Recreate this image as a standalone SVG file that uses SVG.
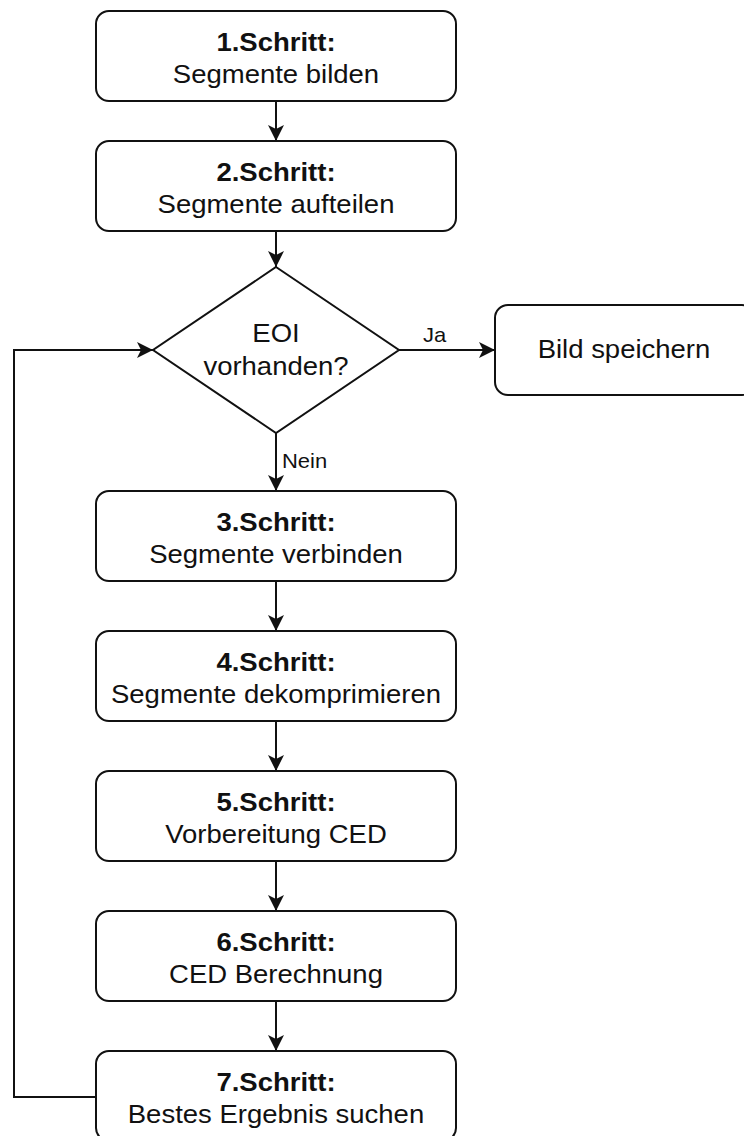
<svg xmlns="http://www.w3.org/2000/svg" width="744" height="1136" viewBox="0 0 744 1136">
<style>
.box{fill:#fff;stroke:#111;stroke-width:2}
.t{font-family:"Liberation Sans",Arial,Helvetica,sans-serif;font-size:25px;fill:#111;text-anchor:middle}
.b{font-weight:bold}
.lbl{font-family:"Liberation Sans",Arial,Helvetica,sans-serif;font-size:20px;fill:#111}
.edge{fill:none;stroke:#111;stroke-width:2}
</style>
<defs>
<marker id="arr" viewBox="0 0 16 16" refX="16" refY="8" markerWidth="16" markerHeight="16" orient="auto" markerUnits="userSpaceOnUse">
<path d="M0,0 L16,8 L0,16 L4,8 Z" fill="#111"/>
</marker>
</defs>
<rect width="744" height="1136" fill="#fff"/>
<g id="connectors">
<path class="edge" d="M276,101 V141" marker-end="url(#arr)"/>
<path class="edge" d="M276,231 V267" marker-end="url(#arr)"/>
<path class="edge" d="M399,350 H495" marker-end="url(#arr)"/>
<path class="edge" d="M276,433 V491" marker-end="url(#arr)"/>
<path class="edge" d="M276,581 V631" marker-end="url(#arr)"/>
<path class="edge" d="M276,721 V771" marker-end="url(#arr)"/>
<path class="edge" d="M276,861 V911" marker-end="url(#arr)"/>
<path class="edge" d="M276,1001 V1051" marker-end="url(#arr)"/>
<path class="edge" d="M96,1097 H14 V350 H153" marker-end="url(#arr)"/>
<text class="lbl" x="423" y="342" transform="translate(423 0) scale(1.1 1) translate(-423 0)">Ja</text>
<text class="lbl" x="282" y="468" transform="translate(282 0) scale(1.1 1) translate(-282 0)">Nein</text>
</g>
<g id="n1">
<rect class="box" x="96" y="11" width="360" height="90" rx="13"/>
<g transform="translate(276 0) scale(1.1 1) translate(-276 0)">
<text class="t b" x="276" y="51">1.Schritt:</text>
<text class="t" x="276" y="83">Segmente bilden</text>
</g>
</g>
<g id="n2">
<rect class="box" x="96" y="141" width="360" height="90" rx="13"/>
<g transform="translate(276 0) scale(1.1 1) translate(-276 0)">
<text class="t b" x="276" y="181">2.Schritt:</text>
<text class="t" x="276" y="213">Segmente aufteilen</text>
</g>
</g>
<g id="decision">
<path class="box" d="M276,267 L399,350 L276,433 L153,350 Z"/>
<g transform="translate(276 0) scale(1.1 1) translate(-276 0)">
<text class="t" x="276" y="342.5">EOI</text>
<text class="t" x="276" y="375">vorhanden?</text>
</g>
</g>
<g id="save">
<rect class="box" x="495" y="305" width="260" height="90" rx="13"/>
<g transform="translate(624 0) scale(1.1 1) translate(-624 0)">
<text class="t" x="624" y="358.5">Bild speichern</text>
</g>
</g>
<g id="n3">
<rect class="box" x="96" y="491" width="360" height="90" rx="13"/>
<g transform="translate(276 0) scale(1.1 1) translate(-276 0)">
<text class="t b" x="276" y="531">3.Schritt:</text>
<text class="t" x="276" y="563">Segmente verbinden</text>
</g>
</g>
<g id="n4">
<rect class="box" x="96" y="631" width="360" height="90" rx="13"/>
<g transform="translate(276 0) scale(1.1 1) translate(-276 0)">
<text class="t b" x="276" y="671">4.Schritt:</text>
<text class="t" x="276" y="703">Segmente dekomprimieren</text>
</g>
</g>
<g id="n5">
<rect class="box" x="96" y="771" width="360" height="90" rx="13"/>
<g transform="translate(276 0) scale(1.1 1) translate(-276 0)">
<text class="t b" x="276" y="811">5.Schritt:</text>
<text class="t" x="276" y="843">Vorbereitung CED</text>
</g>
</g>
<g id="n6">
<rect class="box" x="96" y="911" width="360" height="90" rx="13"/>
<g transform="translate(276 0) scale(1.1 1) translate(-276 0)">
<text class="t b" x="276" y="951">6.Schritt:</text>
<text class="t" x="276" y="983">CED Berechnung</text>
</g>
</g>
<g id="n7">
<rect class="box" x="96" y="1051" width="360" height="90" rx="13"/>
<g transform="translate(276 0) scale(1.1 1) translate(-276 0)">
<text class="t b" x="276" y="1091">7.Schritt:</text>
<text class="t" x="276" y="1123">Bestes Ergebnis suchen</text>
</g>
</g>
</svg>
